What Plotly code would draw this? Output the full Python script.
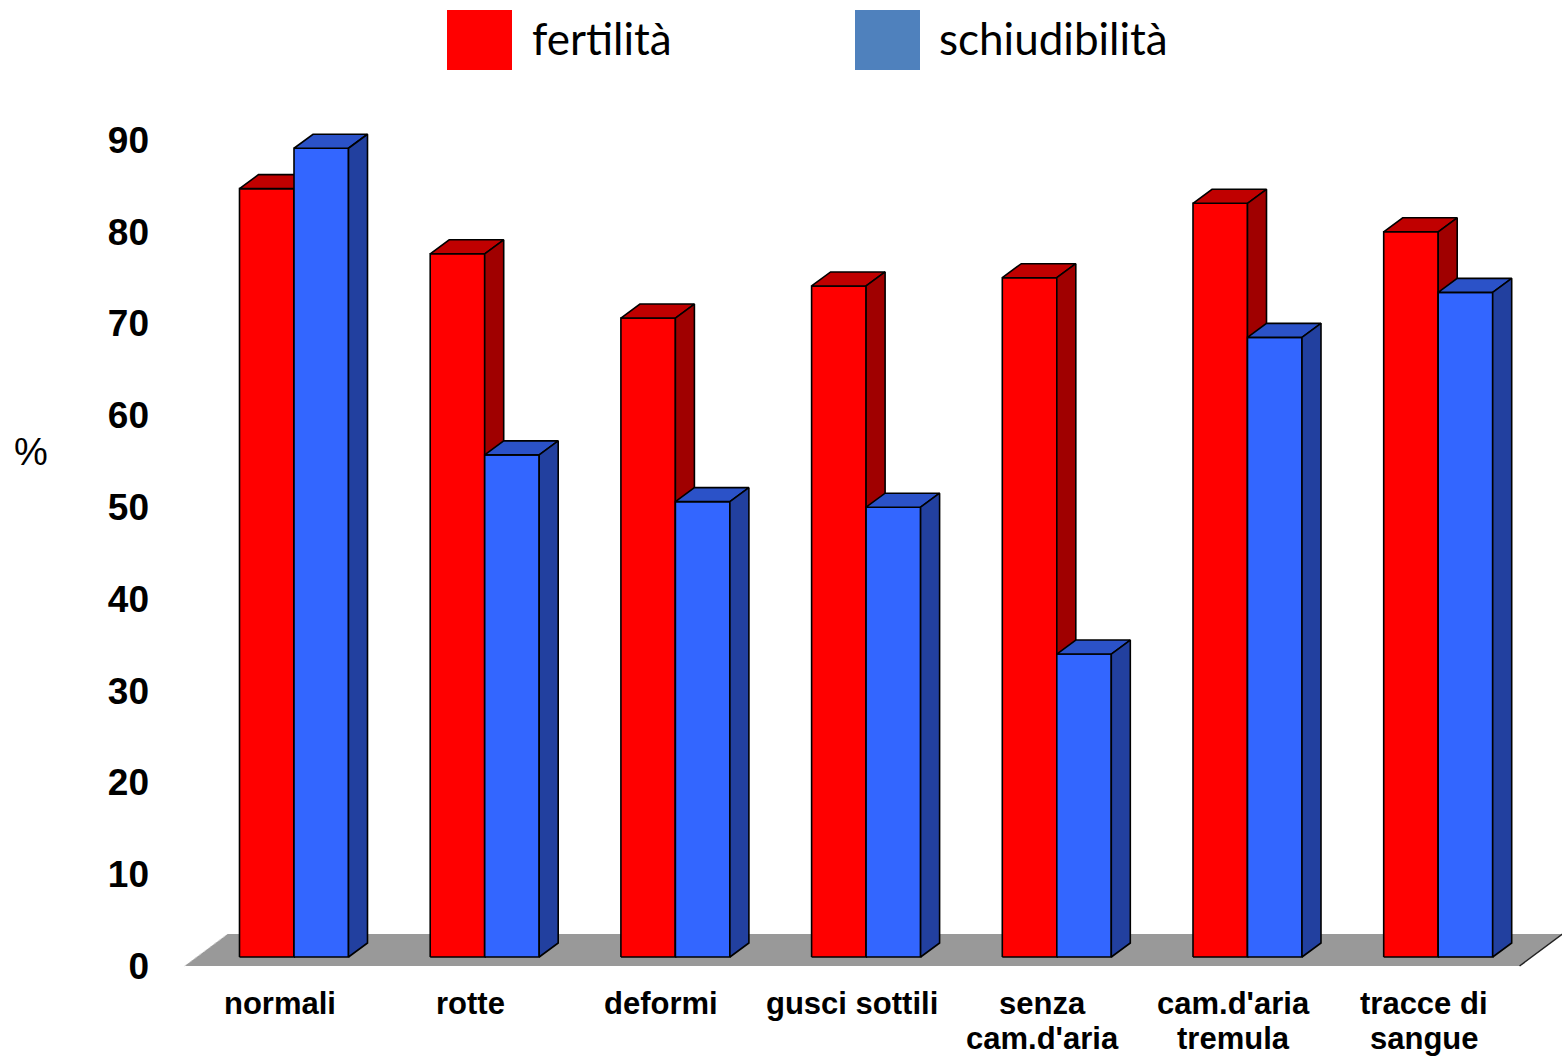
import plotly.graph_objects as go

# ---- data -------------------------------------------------------------
categories = ["normali", "rotte", "deformi", "gusci sottili",
              "senza\ncam.d'aria", "cam.d'aria\ntremula", "tracce di\nsangue"]
fertilita = [83.7, 76.6, 69.6, 73.1, 74.0, 82.1, 79.0]
schiudibilita = [88.1, 54.7, 49.6, 49.0, 33.0, 67.5, 72.4]
y_ticks = [0, 10, 20, 30, 40, 50, 60, 70, 80, 90]
series_names = ["fertilità", "schiudibilità"]

# ---- page / plot geometry ---------------------------------------------
W, H = 1562, 1057
L_M, R_M, T_M, B_M = 160, 0, 100, 77
plot_w = W - L_M - R_M
plot_h = H - T_M - B_M
UX = 190.7          # pixels per category step
UY = 9.18           # pixels per percentage point
cat0_px = 120       # first category centre, from the plot's left edge
zero_px = 14        # value 0 (floor front edge), from the plot's bottom edge
x_range = [-cat0_px / UX, (plot_w - cat0_px) / UX]
y_range = [-zero_px / UY, (plot_h - zero_px) / UY]


def dx(px):
    return px / UX


def dy(px):
    return px / UY


# oblique projection used for the pseudo-3D look (pixels: right, up)
BAR_W = 54.5
FRONT_OFF = (14, 9)     # bar front faces sit a little behind the floor edge
DEPTH = (19, 14)        # bar depth
FLOOR_DEPTH = (43, 32)

FACE_COLORS = [
    {"front": "#FF0000", "top": "#C00000", "side": "#A00000"},
    {"front": "#3366FF", "top": "#2B52C8", "side": "#22409F"},
]
LEGEND_COLORS = ["#FF0000", "#4F81BD"]


def box_faces(values, series):
    front_x, front_y, top_x, top_y, side_x, side_y = [], [], [], [], [], []
    for i, v in enumerate(values):
        left = i + dx(FRONT_OFF[0] + (series - 1) * BAR_W)
        right = left + dx(BAR_W)
        base = dy(FRONT_OFF[1])
        top = base + v
        ddx, ddy = dx(DEPTH[0]), dy(DEPTH[1])
        front_x += [left, right, right, left, left, None]
        front_y += [base, base, top, top, base, None]
        top_x += [left, right, right + ddx, left + ddx, left, None]
        top_y += [top, top, top + ddy, top + ddy, top, None]
        side_x += [right, right + ddx, right + ddx, right, right, None]
        side_y += [base, base + ddy, top + ddy, top, base, None]
    return (front_x, front_y), (top_x, top_y), (side_x, side_y)


fig = go.Figure()

# floor
n = len(categories)
fdx, fdy = dx(FLOOR_DEPTH[0]), dy(FLOOR_DEPTH[1])
fig.add_trace(go.Scatter(
    x=[-0.5, n - 0.5, n - 0.5 + fdx, -0.5 + fdx, -0.5],
    y=[0, 0, fdy, fdy, 0],
    mode="lines", fill="toself", fillcolor="#999999",
    line=dict(width=0), hoverinfo="skip", showlegend=False))
fig.add_trace(go.Scatter(
    x=[n - 0.5, n - 0.5 + fdx], y=[0, fdy],
    mode="lines", line=dict(color="#222222", width=1.5),
    hoverinfo="skip", showlegend=False))
fig.add_trace(go.Scatter(
    x=[-0.5, -0.5 + fdx], y=[0, fdy],
    mode="lines", line=dict(color="#cfcfcf", width=1, dash="dot"),
    hoverinfo="skip", showlegend=False))

# bars: front, top and side faces, red series first so blue overlaps it
for s, values in enumerate([fertilita, schiudibilita]):
    faces = box_faces(values, s)
    for (fx, fy), key in zip(faces, ["front", "top", "side"]):
        fig.add_trace(go.Scatter(
            x=fx, y=fy, mode="lines", fill="toself",
            fillcolor=FACE_COLORS[s][key],
            line=dict(color="#000000", width=1.6),
            name=series_names[s], hoverinfo="skip", showlegend=False))


def px_x(px):
    return (px - L_M) / plot_w


def px_y(py):
    return (H - B_M - py) / plot_h


# legend drawn as large swatches with labels
shapes = []
annotations = []
for k, (x0, tx) in enumerate([(447, 530), (855, 937)]):
    shapes.append(dict(type="rect", xref="paper", yref="paper",
                       x0=px_x(x0), x1=px_x(x0 + 65), y0=px_y(70), y1=px_y(10),
                       fillcolor=LEGEND_COLORS[k], line=dict(width=0)))
    annotations.append(dict(text=series_names[k], xref="paper", yref="paper",
                            x=px_x(tx), y=px_y(38), xanchor="left", yanchor="middle",
                            showarrow=False,
                            font=dict(family="Lato", size=44, color="#000000")))

# category labels, one annotation per line for tight line spacing
LABEL_Y0, LABEL_DY = 1003, 35
for i, cat in enumerate(categories):
    for j, line in enumerate(cat.split("\n")):
        annotations.append(dict(text=line, xref="x", yref="paper",
                                x=i, y=px_y(LABEL_Y0 + j * LABEL_DY),
                                xanchor="center", yanchor="middle", showarrow=False,
                                font=dict(family="Liberation Sans, Arial", size=31,
                                          color="#000000", weight="bold")))

annotations.append(dict(text="%", xref="paper", yref="paper",
                        x=px_x(31), y=px_y(452), xanchor="center", yanchor="middle",
                        showarrow=False,
                        font=dict(family="Liberation Sans, Arial", size=38, color="#000000")))

fig.update_layout(
    width=W, height=H,
    margin=dict(l=L_M, r=R_M, t=T_M, b=B_M, pad=0, autoexpand=False),
    paper_bgcolor="#FFFFFF", plot_bgcolor="#FFFFFF",
    showlegend=False,
    shapes=shapes, annotations=annotations,
    xaxis=dict(range=x_range, tickvals=list(range(n)), showticklabels=False,
               showgrid=False, zeroline=False, showline=False, ticks="",
               automargin=False, fixedrange=True),
    yaxis=dict(range=y_range, tickvals=y_ticks,
               showgrid=False, zeroline=False, showline=False, ticks="",
               automargin=False,
               ticklabelstandoff=10, fixedrange=True,
               tickfont=dict(family="Liberation Sans, Arial", size=37,
                             color="#000000", weight="bold")),
)

fig.write_html("out.html", config={"displayModeBar": False})
